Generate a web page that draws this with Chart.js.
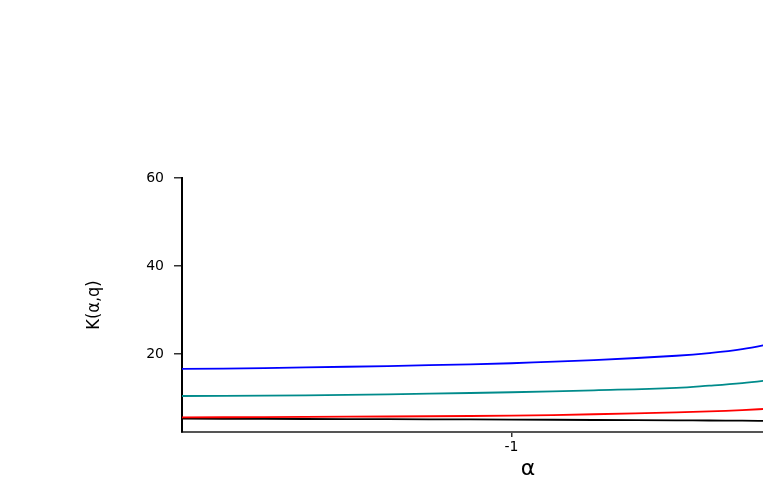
<!DOCTYPE html>
<html>
<head>
<meta charset="utf-8">
<script src="https://cdn.jsdelivr.net/npm/chart.js@4/dist/chart.umd.min.js"></script>
<style>
html,body{margin:0;padding:0;overflow:hidden;background:#fff;width:763px;height:491px;}
#wrap{width:900px;height:491px;}
</style>
</head>
<body>
<div id="wrap"><canvas id="c" width="900" height="491"></canvas></div>
<script>
// alpha values (x)
const alphaValues = [-2, -1.75, -1.5, -1.25, -1, -0.75, -0.5, -0.4, -0.3, -0.2];
// K(alpha,q) series
const kBlue  = [16.6, 16.8, 17.1, 17.45, 17.9, 18.6, 19.6, 20.2, 21.1, 22.5];
const kTeal  = [10.45, 10.55, 10.7, 11.0, 11.3, 11.75, 12.3, 12.8, 13.4, 14.2];
const kRed   = [5.6, 5.65, 5.75, 5.85, 6.0, 6.3, 6.75, 6.95, 7.25, 7.65];
const kBlack = [5.3, 5.25, 5.2, 5.15, 5.1, 5.0, 4.92, 4.88, 4.84, 4.8];
const xTickValues = [-1, 0];
const yTickValues = [20, 40, 60];

function pts(ys){ return alphaValues.map((x,i)=>({x:x,y:ys[i]})); }
function ds(ys,color){
  return {data:pts(ys),borderColor:color,borderWidth:1.8,pointRadius:0,fill:false,tension:0.4};
}

new Chart(document.getElementById('c'),{
  type:'line',
  data:{datasets:[ds(kBlue,'#0000FF'),ds(kTeal,'#008B8B'),ds(kRed,'#FF0000'),ds(kBlack,'#000000')]},
  options:{
    responsive:false,animation:false,devicePixelRatio:1,
    layout:{padding:{left:80,right:26,top:178,bottom:0}},
    plugins:{legend:{display:false},tooltip:{enabled:false}},
    scales:{
      x:{type:'linear',min:-2,max:0.1,
        afterBuildTicks:s=>{s.ticks=xTickValues.map(v=>({value:v}));},
        afterFit:s=>{s.height=59;},
        grid:{drawOnChartArea:false,drawTicks:true,tickLength:5,color:'#333',lineWidth:1.5},
        border:{display:true,color:'#555',width:2},
        ticks:{color:'#000',padding:2,font:{family:'"DejaVu Sans", sans-serif',size:14},callback:v=>String(v)},
        title:{display:true,text:'α',color:'#000',font:{family:'"DejaVu Sans", sans-serif',size:22},padding:{top:0,bottom:9}}
      },
      y:{type:'linear',min:2.27,max:60,
        afterBuildTicks:s=>{s.ticks=yTickValues.map(v=>({value:v}));},
        afterFit:s=>{s.width=102;},
        grid:{drawOnChartArea:false,drawTicks:true,tickLength:8,color:'#333',lineWidth:1.5},
        border:{display:true,color:'#000',width:2},
        ticks:{color:'#000',padding:10,font:{family:'"DejaVu Sans", sans-serif',size:14},callback:v=>String(v)},
        title:{display:true,text:'K(α,q)',color:'#000',font:{family:'"DejaVu Sans Condensed", "Liberation Sans", sans-serif',size:18},padding:{top:4,bottom:0}}
      }
    }
  }
});
</script>
</body>
</html>
